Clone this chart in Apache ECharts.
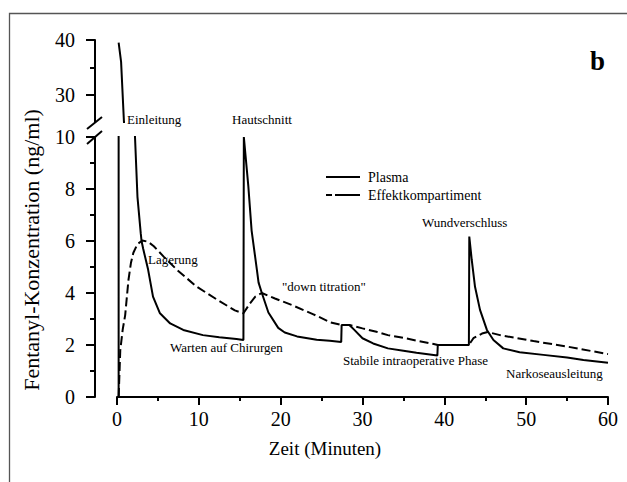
<!DOCTYPE html>
<html>
<head>
<meta charset="utf-8">
<script src="https://cdn.jsdelivr.net/npm/echarts@6/dist/echarts.min.js"></script>
<style>html,body{margin:0;padding:0;background:#fff}#c{width:627px;height:482px}</style>
</head>
<body>
<div id="c"></div>
<script>
// ---- data ----
const plasmaTime = [0, 0.2, 0.2, 0.5, 0.85, 2.2, 2.5, 2.9, 3.0, 3.2, 3.8, 4.4, 5.25, 6.5, 8.1, 10.5, 12.5, 14.6, 15.45, 15.5, 16.05, 16.45, 17.1, 17.3, 17.7, 18.5, 19.7, 20.5, 22, 24.4, 26, 27.4, 27.45, 28.4, 29.0, 30.0, 31.3, 33.1, 35, 36.6, 39.15, 39.2, 43.0, 43.05, 43.35, 43.75, 44.36, 45.2, 46.0, 47.2, 49.2, 52.1, 55, 57, 60];
const plasmaConc = [0, 0, 39.5, 36, 25, 10, 7.7, 6.3, 6.0, 5.7, 4.9, 3.86, 3.22, 2.83, 2.58, 2.38, 2.3, 2.23, 2.19, 10, 8.1, 6.4, 4.88, 4.4, 4.0, 3.25, 2.66, 2.48, 2.33, 2.2, 2.16, 2.12, 2.77, 2.77, 2.58, 2.26, 2.06, 1.87, 1.78, 1.7, 1.6, 2.0, 2.0, 6.17, 5.27, 4.24, 3.35, 2.58, 2.19, 1.87, 1.72, 1.62, 1.52, 1.42, 1.32];
const effectTime = [0.2, 0.4, 0.7, 1.0, 1.4, 1.7, 2.0, 2.5, 3.1, 3.8, 4.5, 5.7, 7.3, 9.7, 12.2, 14.4, 15.45, 16.25, 16.9, 17.7, 19.3, 21.5, 24, 26.1, 27.4, 28.4, 30, 31.7, 33.1, 34.6, 36.6, 38.7, 39.2, 43.0, 43.55, 44.6, 45.3, 46.8, 50.9, 55, 60];
const effectConc = [0, 1.8, 2.6, 3.15, 4.5, 5.15, 5.55, 5.88, 6.02, 5.97, 5.8, 5.4, 4.9, 4.25, 3.75, 3.33, 3.22, 3.6, 3.86, 4.0, 3.79, 3.52, 3.18, 2.87, 2.77, 2.77, 2.64, 2.51, 2.38, 2.3, 2.17, 2.04, 2.0, 2.0, 2.26, 2.44, 2.5, 2.38, 2.15, 1.94, 1.65];
const lowerTicks = [0, 2, 4, 6, 8, 10];
const upperTicks = [30, 40];
const upperMinorTicks = [35];
const seriesNames = ['Plasma', 'Effektkompartiment'];
const annotations = [
  ['Einleitung', 127, 119],
  ['Hautschnitt', 232, 119],
  ['Lagerung', 148, 259],
  ['Warten auf Chirurgen', 170, 347],
  ['"down titration"', 282, 286],
  ['Wundverschluss', 422, 222],
  ['Stabile intraoperative Phase', 343, 360],
  ['Narkoseausleitung', 506, 373]
];
const xTitle = 'Zeit (Minuten)';
const yTitle = 'Fentanyl-Konzentration (ng/ml)';
const panelLabel = 'b';

// ---- build ----
const zip = (a, b) => a.map((v, i) => [v, b[i]]);
const plasma = zip(plasmaTime, plasmaConc);
const peakIdx = plasmaConc.indexOf(Math.max(...plasmaConc));
const plasmaUpper = plasma.slice(peakIdx);
const effect = zip(effectTime, effectConc);

const FF = "'Liberation Serif', 'Times New Roman', serif";
const black = '#000';
const axLine = { show: true, onZero: false, lineStyle: { color: black, width: 2 } };

const chart = echarts.init(document.getElementById('c'), null, { renderer: 'svg' });

const graphics = [
  { type: 'rect', shape: { x: 9.5, y: 13.5, width: 700, height: 600 }, style: { fill: 'none', stroke: '#555', lineWidth: 1.3 }, silent: true },
  { type: 'line', shape: { x1: 87, y1: 129, x2: 102, y2: 117 }, style: { stroke: black, lineWidth: 2 } },
  { type: 'line', shape: { x1: 87, y1: 144, x2: 102, y2: 131 }, style: { stroke: black, lineWidth: 2 } },
  { type: 'text', x: 31, y: 250, rotation: Math.PI / 2, style: { text: yTitle, fontFamily: FF, fontSize: 22, fill: black, align: 'center', verticalAlign: 'middle' } },
  { type: 'text', x: 325, y: 448, style: { text: xTitle, fontFamily: FF, fontSize: 19, fill: black, align: 'center', verticalAlign: 'middle' } },
  { type: 'text', x: 590, y: 61, style: { text: panelLabel, fontFamily: FF, fontSize: 27, fontWeight: 'bold', fill: black, align: 'left', verticalAlign: 'middle' } }
];
annotations.forEach(a => graphics.push({
  type: 'text', x: a[1], y: a[2],
  style: { text: a[0], fontFamily: FF, fontSize: 13, fill: black, align: 'left', verticalAlign: 'middle' }
}));

const option = {
  animation: false,
  backgroundColor: '#fff',
  grid: [
    { left: 117, top: 137, width: 491, height: 260, containLabel: false },
    { left: 117, top: 40, width: 491, height: 82, containLabel: false }
  ],
  xAxis: [
    {
      gridIndex: 0, type: 'value', min: 0, max: 60, interval: 10,
      axisLine: axLine,
      axisTick: { show: true, length: 8, inside: false, lineStyle: { color: black, width: 2 } },
      minorTick: { show: true, splitNumber: 2, length: 4, lineStyle: { color: black, width: 2 } },
      splitLine: { show: false },
      axisLabel: { color: black, fontSize: 20, fontFamily: FF, margin: 12 }
    },
    { gridIndex: 1, type: 'value', min: 0, max: 60, interval: 10, show: false }
  ],
  yAxis: [
    {
      gridIndex: 0, type: 'value', min: 0, max: 10, interval: 2, position: 'left', offset: 22,
      axisLine: axLine,
      axisTick: { show: true, length: 9, lineStyle: { color: black, width: 2 } },
      minorTick: { show: true, splitNumber: 2, length: 5, lineStyle: { color: black, width: 2 } },
      splitLine: { show: false },
      axisLabel: { color: black, fontSize: 20, fontFamily: FF, margin: 20, customValues: lowerTicks }
    },
    {
      gridIndex: 1, type: 'value', min: 25, max: 40, interval: 5, position: 'left', offset: 22,
      axisLine: axLine,
      axisTick: { show: true, length: 9, customValues: upperTicks, lineStyle: { color: black, width: 2 } },
      splitLine: { show: false },
      axisLabel: { color: black, fontSize: 20, fontFamily: FF, margin: 20, customValues: upperTicks }
    },
    {
      gridIndex: 1, type: 'value', min: 25, max: 40, interval: 5, position: 'left', offset: 22,
      axisLine: { show: false, onZero: false },
      axisTick: { show: true, length: 5, customValues: upperMinorTicks, lineStyle: { color: black, width: 2 } },
      splitLine: { show: false },
      axisLabel: { show: false }
    }
  ],
  legend: {
    left: 321, top: 165, orient: 'vertical', itemWidth: 34, itemHeight: 14, itemGap: 4,
    data: [
      { name: seriesNames[0], icon: 'path://M0,0h34v2h-34z' },
      { name: seriesNames[1], icon: 'path://M0,0h6v2h-6z M9,0h25v2h-25z' }
    ],
    itemStyle: { color: black },
    textStyle: { fontFamily: FF, fontSize: 14, color: black, padding: [0, 0, 0, 3] }
  },
  series: [
    {
      name: seriesNames[0], type: 'line', xAxisIndex: 0, yAxisIndex: 0, data: plasma,
      symbol: 'none', clip: true, lineStyle: { color: black, width: 2 }, itemStyle: { color: black }
    },
    {
      name: seriesNames[0], type: 'line', xAxisIndex: 1, yAxisIndex: 1, data: plasmaUpper,
      symbol: 'none', clip: true, lineStyle: { color: black, width: 2 }, itemStyle: { color: black }
    },
    {
      name: seriesNames[1], type: 'line', xAxisIndex: 0, yAxisIndex: 0, data: effect,
      symbol: 'none', clip: true, lineStyle: { color: black, width: 2, type: [9, 4] }, itemStyle: { color: black }
    }
  ],
  graphic: graphics
};
chart.setOption(option);
</script>
</body>
</html>
